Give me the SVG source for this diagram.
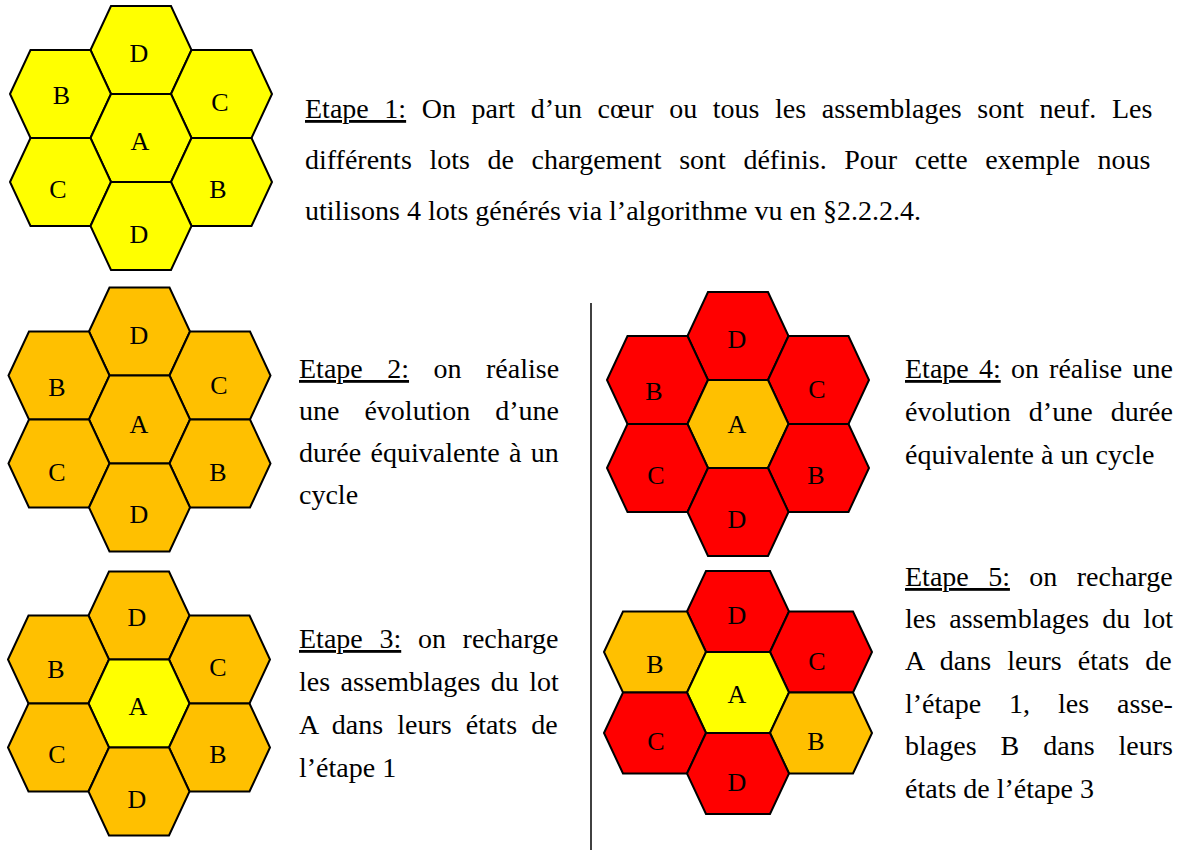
<svg xmlns="http://www.w3.org/2000/svg" xmlns:xlink="http://www.w3.org/1999/xlink" width="1182" height="850" viewBox="0 0 1182 850">
<style>
.hx{stroke:#000;stroke-width:2;stroke-linejoin:miter}
.y{fill:#FFFF00}.o{fill:#FFC000}.r{fill:#FF0000}
.lb{font-family:"Liberation Serif","Times New Roman",serif;font-size:26px;fill:#000;text-anchor:middle}
.tx{font-family:"Liberation Serif","Times New Roman",serif;font-size:28px;fill:#000}
.u{text-decoration:underline}
</style>
<defs>
<polygon id="hA" points="-50.5,0 -30,-44 30,-44 50.5,0 30,44 -30,44"/>
<polygon id="hB" points="-51,0 -32,-40.5 32,-40.5 51,0 32,40.5 -32,40.5"/>
</defs>
<rect width="1182" height="850" fill="#fff"/>

<g id="cluster1">
<g id="c1-D1"><use xlink:href="#hA" x="141" y="50" class="hx y"/><text class="lb" x="139" y="62">D</text></g>
<g id="c1-B1"><use xlink:href="#hA" x="60.5" y="94" class="hx y"/><text class="lb" x="61.5" y="104">B</text></g>
<g id="c1-C1"><use xlink:href="#hA" x="221.5" y="94" class="hx y"/><text class="lb" x="220" y="111">C</text></g>
<g id="c1-A"><use xlink:href="#hA" x="141" y="138" class="hx y"/><text class="lb" x="140" y="150">A</text></g>
<g id="c1-C2"><use xlink:href="#hA" x="60.5" y="182" class="hx y"/><text class="lb" x="58" y="198">C</text></g>
<g id="c1-B2"><use xlink:href="#hA" x="221.5" y="182" class="hx y"/><text class="lb" x="218" y="198">B</text></g>
<g id="c1-D2"><use xlink:href="#hA" x="141" y="226" class="hx y"/><text class="lb" x="139" y="243">D</text></g>
</g>

<g id="cluster2">
<g id="c2-D1"><use xlink:href="#hA" x="139.5" y="331.5" class="hx o"/><text class="lb" x="139" y="344">D</text></g>
<g id="c2-B1"><use xlink:href="#hA" x="59" y="375.5" class="hx o"/><text class="lb" x="57" y="396">B</text></g>
<g id="c2-C1"><use xlink:href="#hA" x="220" y="375.5" class="hx o"/><text class="lb" x="219" y="394">C</text></g>
<g id="c2-A"><use xlink:href="#hA" x="139.5" y="419.5" class="hx o"/><text class="lb" x="139" y="433">A</text></g>
<g id="c2-C2"><use xlink:href="#hA" x="59" y="463.5" class="hx o"/><text class="lb" x="57" y="481">C</text></g>
<g id="c2-B2"><use xlink:href="#hA" x="220" y="463.5" class="hx o"/><text class="lb" x="218" y="481">B</text></g>
<g id="c2-D2"><use xlink:href="#hA" x="139.5" y="507.5" class="hx o"/><text class="lb" x="139" y="523">D</text></g>
</g>

<g id="cluster3">
<g id="c3-D1"><use xlink:href="#hA" x="139" y="615.5" class="hx o"/><text class="lb" x="137" y="626">D</text></g>
<g id="c3-B1"><use xlink:href="#hA" x="58.5" y="659.5" class="hx o"/><text class="lb" x="56" y="678">B</text></g>
<g id="c3-C1"><use xlink:href="#hA" x="219.5" y="659.5" class="hx o"/><text class="lb" x="218" y="676">C</text></g>
<g id="c3-A"><use xlink:href="#hA" x="139" y="703.5" class="hx y"/><text class="lb" x="138" y="715">A</text></g>
<g id="c3-C2"><use xlink:href="#hA" x="58.5" y="747.5" class="hx o"/><text class="lb" x="57" y="763">C</text></g>
<g id="c3-B2"><use xlink:href="#hA" x="219.5" y="747.5" class="hx o"/><text class="lb" x="218" y="763">B</text></g>
<g id="c3-D2"><use xlink:href="#hA" x="139" y="791.5" class="hx o"/><text class="lb" x="137" y="808">D</text></g>
</g>

<g id="cluster4">
<g id="c4-D1"><use xlink:href="#hA" x="738" y="336" class="hx r"/><text class="lb" x="737" y="348">D</text></g>
<g id="c4-B1"><use xlink:href="#hA" x="657.5" y="380" class="hx r"/><text class="lb" x="654" y="400">B</text></g>
<g id="c4-C1"><use xlink:href="#hA" x="818.5" y="380" class="hx r"/><text class="lb" x="817" y="398">C</text></g>
<g id="c4-A"><use xlink:href="#hA" x="738" y="424" class="hx o"/><text class="lb" x="737" y="433">A</text></g>
<g id="c4-C2"><use xlink:href="#hA" x="657.5" y="468" class="hx r"/><text class="lb" x="656" y="484">C</text></g>
<g id="c4-B2"><use xlink:href="#hA" x="818.5" y="468" class="hx r"/><text class="lb" x="816" y="484">B</text></g>
<g id="c4-D2"><use xlink:href="#hA" x="738" y="512" class="hx r"/><text class="lb" x="737" y="528">D</text></g>
</g>

<g id="cluster5">
<g id="c5-D1"><use xlink:href="#hB" x="738" y="611.5" class="hx r"/><text class="lb" x="737" y="624">D</text></g>
<g id="c5-B1"><use xlink:href="#hB" x="655" y="652" class="hx o"/><text class="lb" x="655" y="673">B</text></g>
<g id="c5-C1"><use xlink:href="#hB" x="821" y="652" class="hx r"/><text class="lb" x="817" y="670">C</text></g>
<g id="c5-A"><use xlink:href="#hB" x="738" y="692.5" class="hx y"/><text class="lb" x="737" y="703">A</text></g>
<g id="c5-C2"><use xlink:href="#hB" x="655" y="733" class="hx r"/><text class="lb" x="656" y="750">C</text></g>
<g id="c5-B2"><use xlink:href="#hB" x="821" y="733" class="hx o"/><text class="lb" x="816" y="750">B</text></g>
<g id="c5-D2"><use xlink:href="#hB" x="738" y="773.5" class="hx r"/><text class="lb" x="737" y="791">D</text></g>
</g>

<g id="connectors">
<line x1="591" y1="303" x2="591" y2="850" stroke="#111" stroke-width="1.6"/>
</g>

<g id="text1" class="tx">
<text x="305" y="118" word-spacing="8.6"><tspan class="u">Etape 1:</tspan> On part d’un cœur ou tous les assemblages sont neuf. Les</text>
<text x="305" y="169" word-spacing="10.6">différents lots de chargement sont définis. Pour cette exemple nous</text>
<text x="305" y="220">utilisons 4 lots générés via l’algorithme vu en §2.2.2.4.</text>
</g>

<g id="text2" class="tx">
<text x="299" y="378" word-spacing="17.5"><tspan class="u">Etape 2:</tspan> on réalise</text>
<text x="299" y="420" word-spacing="18">une évolution d’une</text>
<text x="299" y="462" word-spacing="2.4">durée équivalente à un</text>
<text x="299" y="504">cycle</text>
</g>

<g id="text3" class="tx">
<text x="299" y="648" word-spacing="9.7"><tspan class="u">Etape 3:</tspan> on recharge</text>
<text x="299" y="691" word-spacing="3.4">les assemblages du lot</text>
<text x="299" y="734" word-spacing="7.1">A dans leurs états de</text>
<text x="299" y="777">l’étape 1</text>
</g>

<g id="text4" class="tx">
<text x="905" y="378" word-spacing="3.2"><tspan class="u">Etape 4:</tspan> on réalise une</text>
<text x="905" y="421" word-spacing="11.1">évolution d’une durée</text>
<text x="905" y="464">équivalente à un cycle</text>
</g>

<g id="text5" class="tx">
<text x="905" y="586" word-spacing="12.4"><tspan class="u">Etape 5:</tspan> on recharge</text>
<text x="905" y="628" word-spacing="6.1">les assemblages du lot</text>
<text x="905" y="670" word-spacing="9.1">A dans leurs états de</text>
<text x="905" y="713" word-spacing="20.9">l’étape 1, les asse-</text>
<text x="905" y="755" word-spacing="17">blages B dans leurs</text>
<text x="905" y="798">états de l’étape 3</text>
</g>
</svg>
